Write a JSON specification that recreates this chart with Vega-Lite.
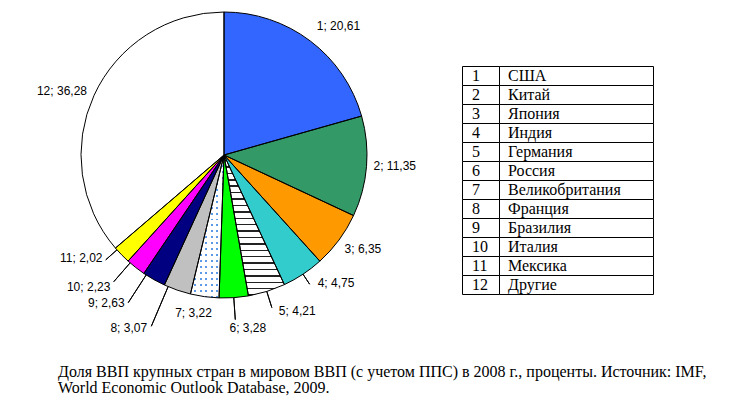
{
  "$schema": "https://vega.github.io/schema/vega-lite/v6.json",
  "padding": 0,
  "bounds": "flush",
  "spacing": 14,
  "config": {"view": {"stroke": null}},
  "title": {
    "text": ["Доля ВВП крупных стран в мировом ВВП (с учетом ППС) в 2008 г., проценты. Источник: IMF,", "World Economic Outlook Database, 2009."],
    "orient": "bottom", "anchor": "start", "dx": 58, "offset": 30,
    "font": "Liberation Serif", "fontSize": 16, "fontWeight": "normal", "color": "black", "lineHeight": 16
  },
  "datasets": {
    "gdp": [
      {"id": 1, "country": "США", "value": 20.61, "label": "1; 20,61"},
      {"id": 2, "country": "Китай", "value": 11.35, "label": "2; 11,35"},
      {"id": 3, "country": "Япония", "value": 6.35, "label": "3; 6,35"},
      {"id": 4, "country": "Индия", "value": 4.75, "label": "4; 4,75"},
      {"id": 5, "country": "Германия", "value": 4.21, "label": "5; 4,21"},
      {"id": 6, "country": "Россия", "value": 3.28, "label": "6; 3,28"},
      {"id": 7, "country": "Великобритания", "value": 3.22, "label": "7; 3,22"},
      {"id": 8, "country": "Франция", "value": 3.07, "label": "8; 3,07"},
      {"id": 9, "country": "Бразилия", "value": 2.63, "label": "9; 2,63"},
      {"id": 10, "country": "Италия", "value": 2.23, "label": "10; 2,23"},
      {"id": 11, "country": "Мексика", "value": 2.02, "label": "11; 2,02"},
      {"id": 12, "country": "Другие", "value": 36.28, "label": "12; 36,28"}
    ]
  },
  "hconcat": [
    {
      "width": 448,
      "height": 310,
      "data": {"name": "gdp"},
      "transform": [
        {"stack": "value", "groupby": [], "sort": [{"field": "id", "order": "ascending"}], "as": ["v0", "v1"]},
        {"fold": ["v0", "v1"], "as": ["edge", "ev"]},
        {"aggregate": [{"op": "mean", "field": "ev", "as": "mid"}], "groupby": ["id", "label", "value", "v0", "v1"]}
      ],
      "layer": [
        {
          "mark": {"type": "arc", "outerRadius": 143, "strokeWidth": 0},
          "encoding": {
            "theta": {"field": "v0", "type": "quantitative", "stack": null, "scale": {"domain": [0, 100]}},
            "theta2": {"field": "v1"},
            "fill": {"field": "id", "type": "nominal", "legend": null,
              "scale": {"domain": [1, 2, 3, 4, 5, 6, 7, 8, 9, 10, 11, 12],
                "range": ["#3366ff", "#339966", "#ff9900", "#33cccc", "#ffffff", "#00ff00", "#ffffff", "#c0c0c0", "#000080", "#ff00ff", "#ffff00", "#ffffff"]}}
          }
        },
        {
          "transform": [{"filter": "datum.id == 5"}],
          "mark": {"type": "arc", "outerRadius": 143, "strokeWidth": 0,
            "fill": {"gradient": "linear", "x1": 0, "y1": 0, "x2": 0, "y2": 1, "stops": [
              {"offset": 0.0345, "color": "#ffffff"}, {"offset": 0.0345, "color": "#222222"}, {"offset": 0.0455, "color": "#222222"}, {"offset": 0.0455, "color": "#ffffff"},
              {"offset": 0.0800, "color": "#ffffff"}, {"offset": 0.0800, "color": "#222222"}, {"offset": 0.0909, "color": "#222222"}, {"offset": 0.0909, "color": "#ffffff"},
              {"offset": 0.1255, "color": "#ffffff"}, {"offset": 0.1255, "color": "#222222"}, {"offset": 0.1364, "color": "#222222"}, {"offset": 0.1364, "color": "#ffffff"},
              {"offset": 0.1709, "color": "#ffffff"}, {"offset": 0.1709, "color": "#222222"}, {"offset": 0.1818, "color": "#222222"}, {"offset": 0.1818, "color": "#ffffff"},
              {"offset": 0.2164, "color": "#ffffff"}, {"offset": 0.2164, "color": "#222222"}, {"offset": 0.2273, "color": "#222222"}, {"offset": 0.2273, "color": "#ffffff"},
              {"offset": 0.2618, "color": "#ffffff"}, {"offset": 0.2618, "color": "#222222"}, {"offset": 0.2727, "color": "#222222"}, {"offset": 0.2727, "color": "#ffffff"},
              {"offset": 0.3073, "color": "#ffffff"}, {"offset": 0.3073, "color": "#222222"}, {"offset": 0.3182, "color": "#222222"}, {"offset": 0.3182, "color": "#ffffff"},
              {"offset": 0.3527, "color": "#ffffff"}, {"offset": 0.3527, "color": "#222222"}, {"offset": 0.3636, "color": "#222222"}, {"offset": 0.3636, "color": "#ffffff"},
              {"offset": 0.3982, "color": "#ffffff"}, {"offset": 0.3982, "color": "#222222"}, {"offset": 0.4091, "color": "#222222"}, {"offset": 0.4091, "color": "#ffffff"},
              {"offset": 0.4436, "color": "#ffffff"}, {"offset": 0.4436, "color": "#222222"}, {"offset": 0.4545, "color": "#222222"}, {"offset": 0.4545, "color": "#ffffff"},
              {"offset": 0.4891, "color": "#ffffff"}, {"offset": 0.4891, "color": "#222222"}, {"offset": 0.5000, "color": "#222222"}, {"offset": 0.5000, "color": "#ffffff"},
              {"offset": 0.5345, "color": "#ffffff"}, {"offset": 0.5345, "color": "#222222"}, {"offset": 0.5455, "color": "#222222"}, {"offset": 0.5455, "color": "#ffffff"},
              {"offset": 0.5800, "color": "#ffffff"}, {"offset": 0.5800, "color": "#222222"}, {"offset": 0.5909, "color": "#222222"}, {"offset": 0.5909, "color": "#ffffff"},
              {"offset": 0.6255, "color": "#ffffff"}, {"offset": 0.6255, "color": "#222222"}, {"offset": 0.6364, "color": "#222222"}, {"offset": 0.6364, "color": "#ffffff"},
              {"offset": 0.6709, "color": "#ffffff"}, {"offset": 0.6709, "color": "#222222"}, {"offset": 0.6818, "color": "#222222"}, {"offset": 0.6818, "color": "#ffffff"},
              {"offset": 0.7164, "color": "#ffffff"}, {"offset": 0.7164, "color": "#222222"}, {"offset": 0.7273, "color": "#222222"}, {"offset": 0.7273, "color": "#ffffff"},
              {"offset": 0.7618, "color": "#ffffff"}, {"offset": 0.7618, "color": "#222222"}, {"offset": 0.7727, "color": "#222222"}, {"offset": 0.7727, "color": "#ffffff"},
              {"offset": 0.8073, "color": "#ffffff"}, {"offset": 0.8073, "color": "#222222"}, {"offset": 0.8182, "color": "#222222"}, {"offset": 0.8182, "color": "#ffffff"},
              {"offset": 0.8527, "color": "#ffffff"}, {"offset": 0.8527, "color": "#222222"}, {"offset": 0.8636, "color": "#222222"}, {"offset": 0.8636, "color": "#ffffff"},
              {"offset": 0.8982, "color": "#ffffff"}, {"offset": 0.8982, "color": "#222222"}, {"offset": 0.9091, "color": "#222222"}, {"offset": 0.9091, "color": "#ffffff"},
              {"offset": 0.9436, "color": "#ffffff"}, {"offset": 0.9436, "color": "#222222"}, {"offset": 0.9545, "color": "#222222"}, {"offset": 0.9545, "color": "#ffffff"},
              {"offset": 0.9891, "color": "#ffffff"}, {"offset": 0.9891, "color": "#222222"}, {"offset": 1.0, "color": "#222222"}
            ]}},
          "encoding": {
            "theta": {"field": "v0", "type": "quantitative", "stack": null, "scale": {"domain": [0, 100]}},
            "theta2": {"field": "v1"}
          }
        },
        {
          "transform": [{"filter": "datum.id == 7"}],
          "mark": {"type": "arc", "outerRadius": 143, "strokeWidth": 0,
            "fill": {"gradient": "linear", "x1": 0, "y1": 0, "x2": 0, "y2": 1, "stops": [
              {"offset": 0.0278, "color": "rgba(0,0,0,0)"}, {"offset": 0.0278, "color": "#5b9ae6"}, {"offset": 0.0417, "color": "#5b9ae6"}, {"offset": 0.0417, "color": "rgba(0,0,0,0)"},
              {"offset": 0.0694, "color": "rgba(0,0,0,0)"}, {"offset": 0.0694, "color": "#5b9ae6"}, {"offset": 0.0833, "color": "#5b9ae6"}, {"offset": 0.0833, "color": "rgba(0,0,0,0)"},
              {"offset": 0.1111, "color": "rgba(0,0,0,0)"}, {"offset": 0.1111, "color": "#5b9ae6"}, {"offset": 0.1250, "color": "#5b9ae6"}, {"offset": 0.1250, "color": "rgba(0,0,0,0)"},
              {"offset": 0.1528, "color": "rgba(0,0,0,0)"}, {"offset": 0.1528, "color": "#5b9ae6"}, {"offset": 0.1667, "color": "#5b9ae6"}, {"offset": 0.1667, "color": "rgba(0,0,0,0)"},
              {"offset": 0.1944, "color": "rgba(0,0,0,0)"}, {"offset": 0.1944, "color": "#5b9ae6"}, {"offset": 0.2083, "color": "#5b9ae6"}, {"offset": 0.2083, "color": "rgba(0,0,0,0)"},
              {"offset": 0.2361, "color": "rgba(0,0,0,0)"}, {"offset": 0.2361, "color": "#5b9ae6"}, {"offset": 0.2500, "color": "#5b9ae6"}, {"offset": 0.2500, "color": "rgba(0,0,0,0)"},
              {"offset": 0.2778, "color": "rgba(0,0,0,0)"}, {"offset": 0.2778, "color": "#5b9ae6"}, {"offset": 0.2917, "color": "#5b9ae6"}, {"offset": 0.2917, "color": "rgba(0,0,0,0)"},
              {"offset": 0.3194, "color": "rgba(0,0,0,0)"}, {"offset": 0.3194, "color": "#5b9ae6"}, {"offset": 0.3333, "color": "#5b9ae6"}, {"offset": 0.3333, "color": "rgba(0,0,0,0)"},
              {"offset": 0.3611, "color": "rgba(0,0,0,0)"}, {"offset": 0.3611, "color": "#5b9ae6"}, {"offset": 0.3750, "color": "#5b9ae6"}, {"offset": 0.3750, "color": "rgba(0,0,0,0)"},
              {"offset": 0.4028, "color": "rgba(0,0,0,0)"}, {"offset": 0.4028, "color": "#5b9ae6"}, {"offset": 0.4167, "color": "#5b9ae6"}, {"offset": 0.4167, "color": "rgba(0,0,0,0)"},
              {"offset": 0.4444, "color": "rgba(0,0,0,0)"}, {"offset": 0.4444, "color": "#5b9ae6"}, {"offset": 0.4583, "color": "#5b9ae6"}, {"offset": 0.4583, "color": "rgba(0,0,0,0)"},
              {"offset": 0.4861, "color": "rgba(0,0,0,0)"}, {"offset": 0.4861, "color": "#5b9ae6"}, {"offset": 0.5000, "color": "#5b9ae6"}, {"offset": 0.5000, "color": "rgba(0,0,0,0)"},
              {"offset": 0.5278, "color": "rgba(0,0,0,0)"}, {"offset": 0.5278, "color": "#5b9ae6"}, {"offset": 0.5417, "color": "#5b9ae6"}, {"offset": 0.5417, "color": "rgba(0,0,0,0)"},
              {"offset": 0.5694, "color": "rgba(0,0,0,0)"}, {"offset": 0.5694, "color": "#5b9ae6"}, {"offset": 0.5833, "color": "#5b9ae6"}, {"offset": 0.5833, "color": "rgba(0,0,0,0)"},
              {"offset": 0.6111, "color": "rgba(0,0,0,0)"}, {"offset": 0.6111, "color": "#5b9ae6"}, {"offset": 0.6250, "color": "#5b9ae6"}, {"offset": 0.6250, "color": "rgba(0,0,0,0)"},
              {"offset": 0.6528, "color": "rgba(0,0,0,0)"}, {"offset": 0.6528, "color": "#5b9ae6"}, {"offset": 0.6667, "color": "#5b9ae6"}, {"offset": 0.6667, "color": "rgba(0,0,0,0)"},
              {"offset": 0.6944, "color": "rgba(0,0,0,0)"}, {"offset": 0.6944, "color": "#5b9ae6"}, {"offset": 0.7083, "color": "#5b9ae6"}, {"offset": 0.7083, "color": "rgba(0,0,0,0)"},
              {"offset": 0.7361, "color": "rgba(0,0,0,0)"}, {"offset": 0.7361, "color": "#5b9ae6"}, {"offset": 0.7500, "color": "#5b9ae6"}, {"offset": 0.7500, "color": "rgba(0,0,0,0)"},
              {"offset": 0.7778, "color": "rgba(0,0,0,0)"}, {"offset": 0.7778, "color": "#5b9ae6"}, {"offset": 0.7917, "color": "#5b9ae6"}, {"offset": 0.7917, "color": "rgba(0,0,0,0)"},
              {"offset": 0.8194, "color": "rgba(0,0,0,0)"}, {"offset": 0.8194, "color": "#5b9ae6"}, {"offset": 0.8333, "color": "#5b9ae6"}, {"offset": 0.8333, "color": "rgba(0,0,0,0)"},
              {"offset": 0.8611, "color": "rgba(0,0,0,0)"}, {"offset": 0.8611, "color": "#5b9ae6"}, {"offset": 0.8750, "color": "#5b9ae6"}, {"offset": 0.8750, "color": "rgba(0,0,0,0)"},
              {"offset": 0.9028, "color": "rgba(0,0,0,0)"}, {"offset": 0.9028, "color": "#5b9ae6"}, {"offset": 0.9167, "color": "#5b9ae6"}, {"offset": 0.9167, "color": "rgba(0,0,0,0)"},
              {"offset": 0.9444, "color": "rgba(0,0,0,0)"}, {"offset": 0.9444, "color": "#5b9ae6"}, {"offset": 0.9583, "color": "#5b9ae6"}, {"offset": 0.9583, "color": "rgba(0,0,0,0)"},
              {"offset": 0.9861, "color": "rgba(0,0,0,0)"}, {"offset": 0.9861, "color": "#5b9ae6"}, {"offset": 1.0, "color": "#5b9ae6"}
            ]}},
          "encoding": {
            "theta": {"field": "v0", "type": "quantitative", "stack": null, "scale": {"domain": [0, 100]}},
            "theta2": {"field": "v1"}
          }
        },
        {
          "transform": [{"filter": "datum.id == 7"}],
          "mark": {"type": "arc", "outerRadius": 143, "strokeWidth": 0,
            "fill": {"gradient": "linear", "x1": 0, "y1": 0, "x2": 1, "y2": 0, "stops": [
              {"offset": 0.0, "color": "#ffffff"}, {"offset": 0.1067, "color": "#ffffff"}, {"offset": 0.1067, "color": "rgba(255,255,255,0)"}, {"offset": 0.1667, "color": "rgba(255,255,255,0)"},
              {"offset": 0.1667, "color": "#ffffff"}, {"offset": 0.2733, "color": "#ffffff"}, {"offset": 0.2733, "color": "rgba(255,255,255,0)"}, {"offset": 0.3333, "color": "rgba(255,255,255,0)"},
              {"offset": 0.3333, "color": "#ffffff"}, {"offset": 0.4400, "color": "#ffffff"}, {"offset": 0.4400, "color": "rgba(255,255,255,0)"}, {"offset": 0.5000, "color": "rgba(255,255,255,0)"},
              {"offset": 0.5000, "color": "#ffffff"}, {"offset": 0.6067, "color": "#ffffff"}, {"offset": 0.6067, "color": "rgba(255,255,255,0)"}, {"offset": 0.6667, "color": "rgba(255,255,255,0)"},
              {"offset": 0.6667, "color": "#ffffff"}, {"offset": 0.7733, "color": "#ffffff"}, {"offset": 0.7733, "color": "rgba(255,255,255,0)"}, {"offset": 0.8333, "color": "rgba(255,255,255,0)"},
              {"offset": 0.8333, "color": "#ffffff"}, {"offset": 0.9400, "color": "#ffffff"}, {"offset": 0.9400, "color": "rgba(255,255,255,0)"}, {"offset": 1.0, "color": "rgba(255,255,255,0)"}
            ]}},
          "encoding": {
            "theta": {"field": "v0", "type": "quantitative", "stack": null, "scale": {"domain": [0, 100]}},
            "theta2": {"field": "v1"}
          }
        },
        {
          "mark": {"type": "arc", "outerRadius": 143, "fillOpacity": 0, "stroke": "#000000", "strokeWidth": 1},
          "encoding": {
            "theta": {"field": "v0", "type": "quantitative", "stack": null, "scale": {"domain": [0, 100]}},
            "theta2": {"field": "v1"}
          }
        },
        {"transform": [{"filter": "datum.id == 4"}], "mark": {"type": "arc", "innerRadius": 143, "outerRadius": 155, "fillOpacity": 0, "stroke": "#000000", "strokeWidth": 1},
         "encoding": {"theta": {"field": "mid", "type": "quantitative", "stack": null, "scale": {"domain": [0, 100]}}, "theta2": {"field": "mid"}}},
        {"transform": [{"filter": "datum.id == 5"}], "mark": {"type": "arc", "innerRadius": 143, "outerRadius": 160, "fillOpacity": 0, "stroke": "#000000", "strokeWidth": 1},
         "encoding": {"theta": {"field": "mid", "type": "quantitative", "stack": null, "scale": {"domain": [0, 100]}}, "theta2": {"field": "mid"}}},
        {"transform": [{"filter": "datum.id == 6"}], "mark": {"type": "arc", "innerRadius": 143, "outerRadius": 165, "fillOpacity": 0, "stroke": "#000000", "strokeWidth": 1},
         "encoding": {"theta": {"field": "mid", "type": "quantitative", "stack": null, "scale": {"domain": [0, 100]}}, "theta2": {"field": "mid"}}},
        {"transform": [{"filter": "datum.id == 8"}], "mark": {"type": "arc", "innerRadius": 143, "outerRadius": 186, "thetaOffset": 0.068, "theta2Offset": 0.068, "fillOpacity": 0, "stroke": "#000000", "strokeWidth": 1},
         "encoding": {"theta": {"field": "mid", "type": "quantitative", "stack": null, "scale": {"domain": [0, 100]}}, "theta2": {"field": "mid"}}},
        {"transform": [{"filter": "datum.id == 9"}], "mark": {"type": "arc", "innerRadius": 143, "outerRadius": 176, "thetaOffset": 0.063, "theta2Offset": 0.063, "fillOpacity": 0, "stroke": "#000000", "strokeWidth": 1},
         "encoding": {"theta": {"field": "mid", "type": "quantitative", "stack": null, "scale": {"domain": [0, 100]}}, "theta2": {"field": "mid"}}},
        {"transform": [{"filter": "datum.id == 10"}], "mark": {"type": "arc", "innerRadius": 143, "outerRadius": 168, "thetaOffset": 0.051, "theta2Offset": 0.051, "fillOpacity": 0, "stroke": "#000000", "strokeWidth": 1},
         "encoding": {"theta": {"field": "mid", "type": "quantitative", "stack": null, "scale": {"domain": [0, 100]}}, "theta2": {"field": "mid"}}},
        {"transform": [{"filter": "datum.id == 11"}], "mark": {"type": "arc", "innerRadius": 143, "outerRadius": 158, "thetaOffset": 0.047, "theta2Offset": 0.047, "fillOpacity": 0, "stroke": "#000000", "strokeWidth": 1},
         "encoding": {"theta": {"field": "mid", "type": "quantitative", "stack": null, "scale": {"domain": [0, 100]}}, "theta2": {"field": "mid"}}},
        {"transform": [{"filter": "datum.id == 1"}], "mark": {"type": "text", "radius": 162, "dx": -5, "align": "left", "baseline": "middle", "font": "Liberation Sans", "fontSize": 12, "fill": "#000000"},
         "encoding": {"theta": {"field": "mid", "type": "quantitative", "stack": null, "scale": {"domain": [0, 100]}}, "text": {"field": "label"}}},
        {"transform": [{"filter": "datum.id == 2"}], "mark": {"type": "text", "radius": 150, "dy": -1, "align": "left", "baseline": "middle", "font": "Liberation Sans", "fontSize": 12, "fill": "#000000"},
         "encoding": {"theta": {"field": "mid", "type": "quantitative", "stack": null, "scale": {"domain": [0, 100]}}, "text": {"field": "label"}}},
        {"transform": [{"filter": "datum.id == 3"}], "mark": {"type": "text", "radius": 150, "dy": 5, "align": "left", "baseline": "middle", "font": "Liberation Sans", "fontSize": 12, "fill": "#000000"},
         "encoding": {"theta": {"field": "mid", "type": "quantitative", "stack": null, "scale": {"domain": [0, 100]}}, "text": {"field": "label"}}},
        {"transform": [{"filter": "datum.id == 4"}], "mark": {"type": "text", "radius": 155, "dx": 8, "dy": -1, "align": "left", "baseline": "middle", "font": "Liberation Sans", "fontSize": 12, "fill": "#000000"},
         "encoding": {"theta": {"field": "mid", "type": "quantitative", "stack": null, "scale": {"domain": [0, 100]}}, "text": {"field": "label"}}},
        {"transform": [{"filter": "datum.id == 5"}], "mark": {"type": "text", "radius": 160, "dx": 7, "dy": 3, "align": "left", "baseline": "middle", "font": "Liberation Sans", "fontSize": 12, "fill": "#000000"},
         "encoding": {"theta": {"field": "mid", "type": "quantitative", "stack": null, "scale": {"domain": [0, 100]}}, "text": {"field": "label"}}},
        {"transform": [{"filter": "datum.id == 6"}], "mark": {"type": "text", "radius": 173, "dx": 12, "align": "center", "baseline": "middle", "font": "Liberation Sans", "fontSize": 12, "fill": "#000000"},
         "encoding": {"theta": {"field": "mid", "type": "quantitative", "stack": null, "scale": {"domain": [0, 100]}}, "text": {"field": "label"}}},
        {"transform": [{"filter": "datum.id == 7"}], "mark": {"type": "text", "radius": 159, "dx": -9, "align": "center", "baseline": "middle", "font": "Liberation Sans", "fontSize": 12, "fill": "#000000"},
         "encoding": {"theta": {"field": "mid", "type": "quantitative", "stack": null, "scale": {"domain": [0, 100]}}, "text": {"field": "label"}}},
        {"transform": [{"filter": "datum.id == 8"}], "mark": {"type": "text", "radius": 183, "dx": -17, "align": "right", "baseline": "middle", "font": "Liberation Sans", "fontSize": 12, "fill": "#000000"},
         "encoding": {"theta": {"field": "mid", "type": "quantitative", "stack": null, "scale": {"domain": [0, 100]}}, "text": {"field": "label"}}},
        {"transform": [{"filter": "datum.id == 9"}], "mark": {"type": "text", "radius": 170, "dx": -16, "align": "right", "baseline": "middle", "font": "Liberation Sans", "fontSize": 12, "fill": "#000000"},
         "encoding": {"theta": {"field": "mid", "type": "quantitative", "stack": null, "scale": {"domain": [0, 100]}}, "text": {"field": "label"}}},
        {"transform": [{"filter": "datum.id == 10"}], "mark": {"type": "text", "radius": 168, "dx": -10, "align": "right", "baseline": "middle", "font": "Liberation Sans", "fontSize": 12, "fill": "#000000"},
         "encoding": {"theta": {"field": "mid", "type": "quantitative", "stack": null, "scale": {"domain": [0, 100]}}, "text": {"field": "label"}}},
        {"transform": [{"filter": "datum.id == 11"}], "mark": {"type": "text", "radius": 150, "dx": -14, "dy": -2, "align": "right", "baseline": "middle", "font": "Liberation Sans", "fontSize": 12, "fill": "#000000"},
         "encoding": {"theta": {"field": "mid", "type": "quantitative", "stack": null, "scale": {"domain": [0, 100]}}, "text": {"field": "label"}}},
        {"transform": [{"filter": "datum.id == 12"}], "mark": {"type": "text", "radius": 153, "dx": 2, "align": "right", "baseline": "middle", "font": "Liberation Sans", "fontSize": 12, "fill": "#000000"},
         "encoding": {"theta": {"field": "mid", "type": "quantitative", "stack": null, "scale": {"domain": [0, 100]}}, "text": {"field": "label"}}}
      ]
    },
    {
      "width": 192,
      "height": 310,
      "data": {"name": "gdp"},
      "encoding": {
        "y": {"field": "id", "type": "ordinal", "axis": null, "scale": {"range": [66.5, 294.5], "paddingInner": 0, "paddingOuter": 0}}
      },
      "layer": [
        {"mark": {"type": "rect", "fill": "#ffffff", "stroke": "#000000", "strokeWidth": 1, "x": 0.5, "x2": 37.5}},
        {"mark": {"type": "rect", "fill": "#ffffff", "stroke": "#000000", "strokeWidth": 1, "x": 37.5, "x2": 191.5}},
        {"mark": {"type": "text", "align": "left", "baseline": "middle", "x": 10, "font": "Liberation Serif", "fontSize": 16, "fill": "#000000"},
         "encoding": {"text": {"field": "id"}}},
        {"mark": {"type": "text", "align": "left", "baseline": "middle", "x": 46, "font": "Liberation Serif", "fontSize": 16, "fill": "#000000"},
         "encoding": {"text": {"field": "country"}}}
      ]
    }
  ]
}
